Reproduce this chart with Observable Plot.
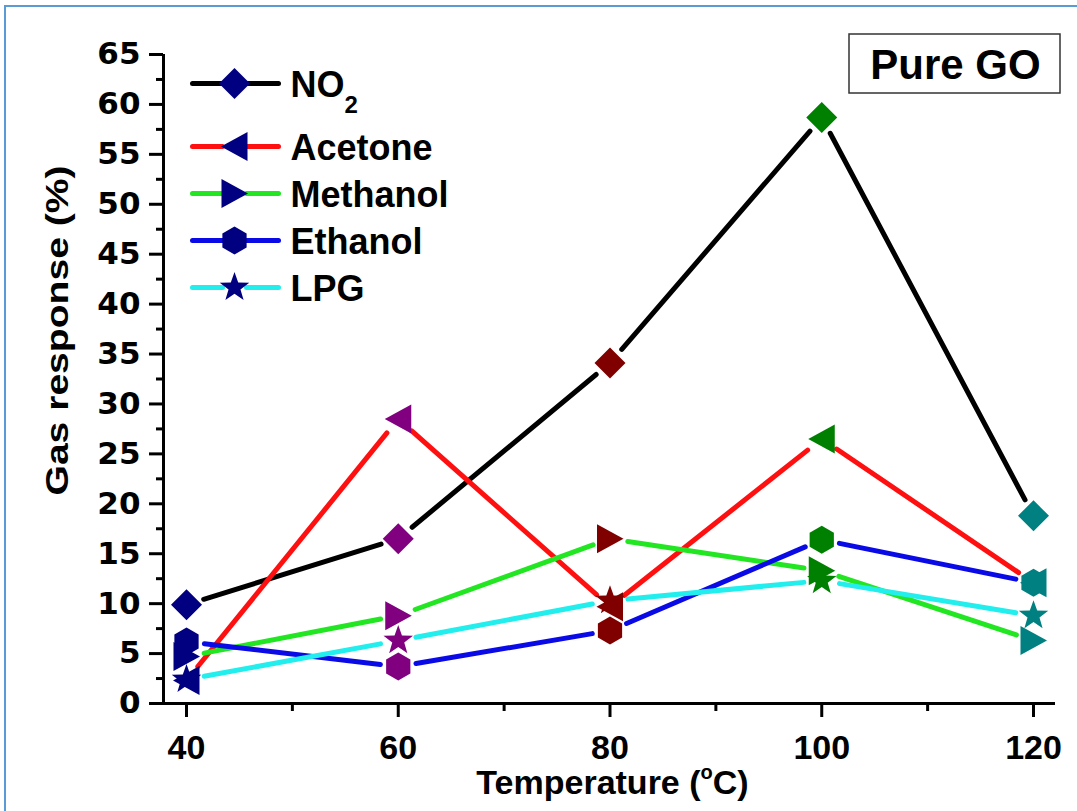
<!DOCTYPE html>
<html><head><meta charset="utf-8">
<script src="https://cdn.jsdelivr.net/npm/d3@7"></script>
<script src="https://cdn.jsdelivr.net/npm/@observablehq/plot@0.6"></script>
<style>
body{margin:0;background:#fff;overflow:hidden}
#wrap{position:relative;width:1077px;height:811px;background:#fff}
#border{position:absolute;left:4px;top:5px;width:1200px;height:1000px;border-left:2px solid #5b9bd5;border-top:2px solid #5b9bd5;pointer-events:none}
</style></head><body><div id="wrap"><div id="chart"></div><div id="border"></div></div>
<script>
// ---- data ----
const temperatures = [40, 60, 80, 100, 120];
const no2      = [9.9, 16.5, 34.1, 58.7, 18.8];
const acetone  = [2.3, 28.5, 9.7, 26.5, 12.1];
const methanol = [4.7, 8.8, 16.5, 13.3, 6.3];
const ethanol  = [6.2, 3.7, 7.3, 16.4, 12.1];
const lpg      = [2.4, 6.3, 10.3, 12.3, 8.8];
const seriesNames = ["NO2", "Acetone", "Methanol", "Ethanol", "LPG"];
const lineColors = ["#000000", "#ff1010", "#22e622", "#0a0ae6", "#22eeee"];
const markerColors = ["#000080", "#800080", "#800000", "#008000", "#008080"]; // one per temperature
const legendMarkerColor = "#000080";
const yTicks = d3.range(0, 66, 5);
const yMinorTicks = d3.range(2.5, 65, 5);
const xTicks = [40, 60, 80, 100, 120];
const xMinorTicks = [50, 70, 90, 110];
const titleText = "Pure GO";
const xLabel = "Temperature (°C)";
const yLabel = "Gas response (%)";

// ---- layout ----
const W = 1077, H = 811, mL = 163, mR = 22, mT = 54, mB = 108;
const k = (1033 - 186) / 80;
const xmin = 40 - (186 - mL) / k, xmax = 120 + ((W - mR) - 1033) / k;
const X = Plot.scale({x: {domain: [xmin, xmax], range: [mL, W - mR]}});
const Y = Plot.scale({y: {domain: [0, 65], range: [H - mB, mT]}});

// ---- symbols ----
const S = 15;
function mk(pts) {
  return {draw(ctx, size) {
    const f = Math.sqrt(size / Math.PI) / S;
    ctx.moveTo(pts[0][0] * f, pts[0][1] * f);
    for (let i = 1; i < pts.length; ++i) ctx.lineTo(pts[i][0] * f, pts[i][1] * f);
    ctx.closePath();
  }};
}
const diamond = mk([[0, -15.5], [15.5, 0], [0, 15.5], [-15.5, 0]]);
const triLeft = mk([[-13.5, 0], [13, -14.5], [13, 14.5]]);
const triRight = mk([[13.5, 0], [-13, 14.5], [-13, -14.5]]);
const hexagon = mk(d3.range(6).map(i => [14 * Math.cos(-Math.PI / 2 + i * Math.PI / 3), 14 * Math.sin(-Math.PI / 2 + i * Math.PI / 3)]));
const star = mk(d3.range(10).map(i => { const r = i % 2 ? 6.3 : 15.5, a = -Math.PI / 2 + i * Math.PI / 5; return [r * Math.cos(a), r * Math.sin(a)]; }));
const symbols = [diamond, triLeft, triRight, hexagon, star];

const seriesValues = [no2, acetone, methanol, ethanol, lpg];
const series = seriesNames.map((name, i) => ({
  name, color: lineColors[i], symbol: symbols[i],
  points: temperatures.map((t, j) => ({t, v: seriesValues[i][j], fill: markerColors[j]}))
}));

// line segments with gaps around markers (computed in pixel space, mapped back)
const GAP = 18;
function segments(points) {
  const out = [];
  for (let i = 0; i < points.length - 1; ++i) {
    const ax = X.apply(points[i].t), ay = Y.apply(points[i].v);
    const bx = X.apply(points[i + 1].t), by = Y.apply(points[i + 1].v);
    const dx = bx - ax, dy = by - ay, L = Math.hypot(dx, dy), ux = dx / L, uy = dy / L;
    out.push({x1: X.invert(ax + ux * GAP), y1: Y.invert(ay + uy * GAP), x2: X.invert(bx - ux * GAP), y2: Y.invert(by - uy * GAP)});
  }
  return out;
}

// legend (placed inside the frame, top-left)
const legendRowsPx = [83, 146, 193, 240, 287];
const legendRows = series.map((s, i) => ({...s, py: legendRowsPx[i]}));
const LX0 = 192, LXM = 234, LX1 = 278, LT = 290;

const FONT = "Liberation Sans, Arial, Helvetica, sans-serif";
const marks = [];
// axes lines
marks.push(Plot.ruleY([0], {x1: xmin, x2: xmax, stroke: "black", strokeWidth: 3}));
marks.push(Plot.ruleX([xmin], {y1: 0, y2: 65, stroke: "black", strokeWidth: 3}));
marks.push(Plot.axisY(yTicks, {anchor: "left", tickSize: 14, tickPadding: 9, strokeWidth: 3, fontSize: 31, fontWeight: "bold", fontFamily: "DejaVu Sans, sans-serif", fill: "black", label: null}));
marks.push(Plot.axisY(yMinorTicks, {anchor: "left", tickSize: 7, strokeWidth: 3, text: null, label: null}));
marks.push(Plot.axisX(xTicks, {anchor: "bottom", tickSize: 14, tickPadding: 17, strokeWidth: 3, fontSize: 34, fontWeight: "bold", fontFamily: FONT, fill: "black", label: null}));
marks.push(Plot.axisX(xMinorTicks, {anchor: "bottom", tickSize: 8, strokeWidth: 3, text: null, label: null}));
// series lines
for (const s of series) {
  marks.push(Plot.link(segments(s.points), {x1: "x1", y1: "y1", x2: "x2", y2: "y2", stroke: s.color, strokeWidth: 5, strokeLinecap: "round"}));
}
// series markers
for (const s of series) {
  marks.push(Plot.dot(s.points, {x: "t", y: "v", symbol: s.symbol, r: S, fill: "fill", stroke: "none"}));
}
// legend
for (const row of legendRows) {
  const segs = [{a: LX0, b: LXM - 12}, {a: LXM + 12, b: LX1}];
  marks.push(Plot.link(segs, {x1: d => X.invert(d.a), x2: d => X.invert(d.b), y1: Y.invert(row.py), y2: Y.invert(row.py), stroke: row.color, strokeWidth: 5, strokeLinecap: "round"}));
  marks.push(Plot.dot([row], {x: X.invert(LXM), y: Y.invert(row.py), symbol: row.symbol, r: S, fill: legendMarkerColor}));
}
marks.push(Plot.text(legendRows, {x: X.invert(LT), y: d => Y.invert(d.py + 13), text: "name", textAnchor: "start", lineAnchor: "bottom", fontSize: 36, fontWeight: "bold", fontFamily: FONT, fill: "black"}));
// title box
marks.push(Plot.rect([titleText], {x1: X.invert(849), x2: X.invert(1060), y1: Y.invert(93), y2: Y.invert(34), fill: "white", stroke: "#333", strokeWidth: 1.5}));
marks.push(Plot.text([titleText], {x: X.invert(955), y: Y.invert(78), text: d => d, lineAnchor: "bottom", fontSize: 42, fontWeight: "bold", fontFamily: FONT, fill: "black"}));
// axis labels
marks.push(Plot.text([xLabel], {x: X.invert(612), y: Y.invert(793), text: d => d, lineAnchor: "bottom", fontSize: 34, fontWeight: "bold", fontFamily: FONT, fill: "black"}));
marks.push(Plot.text([yLabel], {x: X.invert(58), y: Y.invert(330), text: d => d, rotate: -90, lineAnchor: "middle", fontSize: 31, fontWeight: "bold", fontFamily: FONT, fill: "black"}));

const chart = Plot.plot({
  width: W, height: H, marginLeft: mL, marginRight: mR, marginTop: mT, marginBottom: mB,
  x: {domain: [xmin, xmax], axis: null},
  y: {domain: [0, 65], axis: null},
  color: {type: "identity"},
  style: {background: "white", overflow: "visible"},
  marks
});
document.getElementById("chart").append(chart);

// rich text: subscript / superscript, label stretch
d3.select(chart).selectAll("text").each(function () {
  const t = this.textContent;
  const sel = d3.select(this);
  if (t === "NO2") {
    sel.text("NO");
    sel.append("tspan").attr("font-size", 24).attr("dy", 16).text("2");
  } else if (t === xLabel) {
    sel.text("Temperature (");
    sel.append("tspan").attr("font-size", 20).attr("dy", -15).text("o");
    sel.append("tspan").attr("dy", 15).text("C)");
  } else if (t === yLabel) {
    sel.attr("textLength", 330).attr("lengthAdjust", "spacingAndGlyphs");
  }
});
</script></body></html>
